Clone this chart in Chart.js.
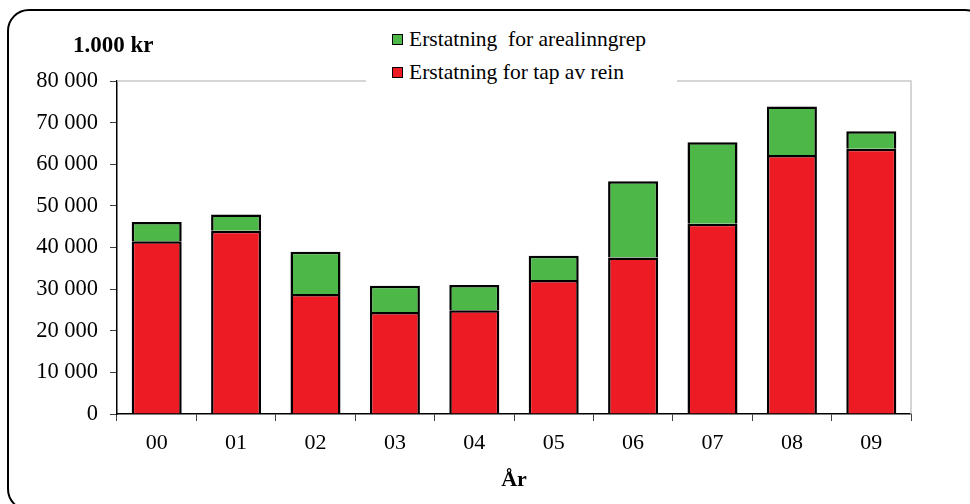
<!DOCTYPE html>
<html lang="no">
<head>
  <meta charset="UTF-8" />
  <title>Erstatning</title>
  <script src="https://cdn.jsdelivr.net/npm/chart.js"></script>
  <style>
    html, body {
      margin: 0;
      padding: 0;
      background: #fff;
      overflow: hidden;
    }
    .wrap {
      position: relative;
      width: 970px;
      height: 504px;
      font-family: 'Liberation Serif', 'Times New Roman', serif;
    }
    .frame {
      position: absolute;
      left: 7px;
      top: 9px;
      width: 976px;
      height: 498px;
      border: 2px solid #000;
      border-radius: 22px;
    }
    canvas {
      position: absolute;
      left: 0;
      top: 0;
    }
    .unit {
      position: absolute;
      left: 73px;
      top: 32px;
      font-size: 23px;
      font-weight: bold;
    }
    .legend {
      position: absolute;
      left: 366px;
      top: 22px;
      width: 311px;
      height: 64px;
      background: #fff;
    }
    .legend-item {
      position: absolute;
      left: 26px;
      display: flex;
      align-items: center;
      font-size: 21.5px;
      white-space: pre;
    }
    .color-box {
      width: 9px;
      height: 9px;
      border: 1.5px solid #000;
      margin-right: 6px;
    }
  </style>
</head>
<body>

<div class="wrap">
  <div class="frame"></div>
  <canvas id="chart" width="970" height="504"></canvas>
  <div class="unit">1.000 kr</div>
  <div class="legend" id="legend"></div>
</div>

<script>
  const years = ["00", "01", "02", "03", "04", "05", "06", "07", "08", "09"];
  const tapAvRein = [41500, 44000, 28800, 24500, 24900, 32200, 37600, 45700, 62200, 63700];
  const arealinngrep = [4600, 3900, 10200, 6300, 6100, 5800, 18300, 19600, 11700, 4200];

  const seriesNames = ["Erstatning for tap av rein", "Erstatning  for arealinngrep"];
  const seriesColors = ["#ed1c24", "#4db848"];

  const serif = "'Liberation Serif', 'Times New Roman', serif";

  // grey frame on top and right of the plot area
  const plotFrame = {
    id: 'plotFrame',
    beforeDatasetsDraw(chart) {
      const a = chart.chartArea;
      const ctx = chart.ctx;
      ctx.save();
      ctx.strokeStyle = '#c8c8c8';
      ctx.lineWidth = 1.5;
      ctx.beginPath();
      ctx.moveTo(a.left, a.top);
      ctx.lineTo(a.right, a.top);
      ctx.lineTo(a.right, a.bottom);
      ctx.stroke();
      ctx.restore();
    }
  };

  function fmt(v) {
    return String(v).replace(/\B(?=(\d{3})+(?!\d))/g, ' ');
  }

  new Chart(document.getElementById('chart'), {
    type: 'bar',
    data: {
      labels: years,
      datasets: [
        {
          label: seriesNames[0],
          data: tapAvRein,
          backgroundColor: seriesColors[0],
          borderColor: '#000',
          borderWidth: 2.5,
          borderSkipped: 'bottom'
        },
        {
          label: seriesNames[1],
          data: arealinngrep,
          backgroundColor: seriesColors[1],
          borderColor: '#000',
          borderWidth: 2.5,
          borderSkipped: 'bottom'
        }
      ]
    },
    options: {
      responsive: false,
      animation: false,
      layout: { padding: { top: 81, right: 59, left: 0, bottom: 0 } },
      datasets: { bar: { categoryPercentage: 1, barPercentage: 0.63 } },
      plugins: {
        legend: { display: false },
        tooltip: { enabled: false }
      },
      scales: {
        x: {
          stacked: true,
          afterFit(scale) { scale.height = 90; },
          grid: { drawOnChartArea: false, tickLength: 7, color: '#404040', offset: true },
          border: { color: '#000', width: 1.5 },
          ticks: { color: '#000', padding: 9, font: { family: serif, size: 22 } },
          title: {
            display: true,
            text: 'År',
            color: '#000',
            padding: { top: 0, bottom: 10 },
            font: { family: serif, size: 22, weight: 'bold' }
          }
        },
        y: {
          stacked: true,
          min: 0,
          max: 80000,
          afterFit(scale) { scale.width = 117; },
          grid: { drawOnChartArea: false, tickLength: 7, color: '#404040' },
          border: { color: '#000', width: 1.5 },
          ticks: {
            stepSize: 10000,
            color: '#000',
            padding: 12,
            font: { family: serif, size: 22.5 },
            callback: v => fmt(v)
          }
        }
      }
    },
    plugins: [plotFrame]
  });

  // legend, top series first
  const legend = document.getElementById('legend');
  [1, 0].forEach((i, row) => {
    const item = document.createElement('div');
    item.className = 'legend-item';
    item.style.top = (row * 33 + 5) + 'px';
    item.innerHTML = '<div class="color-box" style="background:' + seriesColors[i] + '"></div><span>' + seriesNames[i] + '</span>';
    legend.appendChild(item);
  });
</script>

</body>
</html>
